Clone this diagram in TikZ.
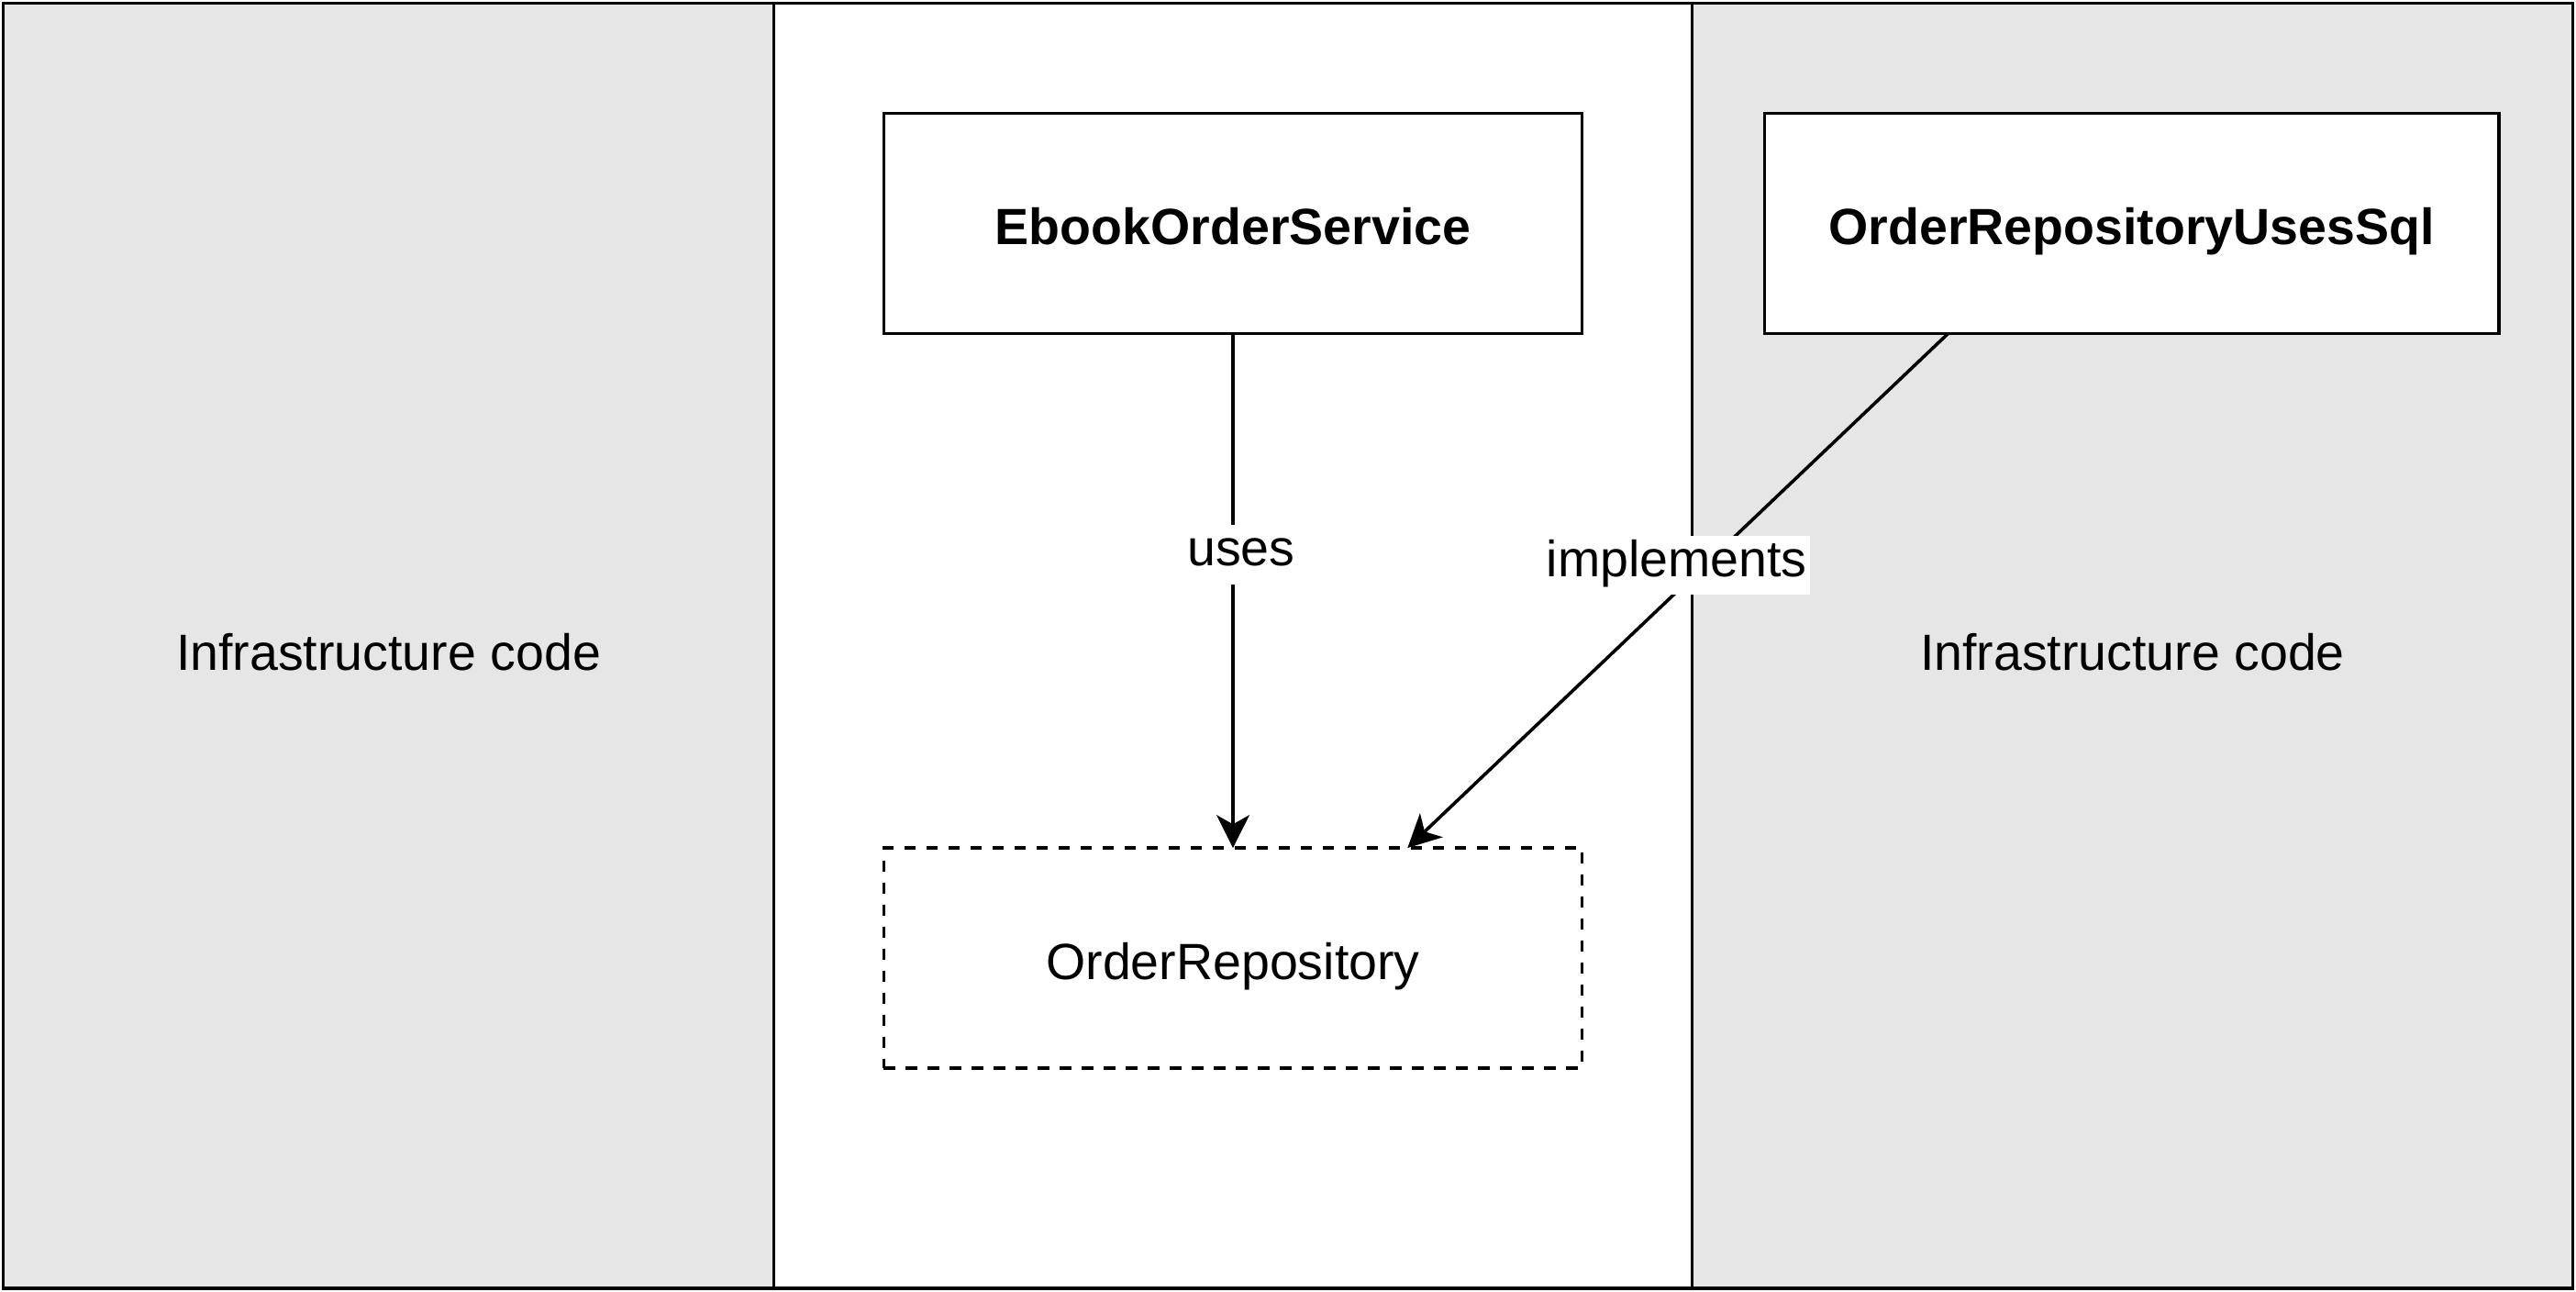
\documentclass[tikz,border=0pt]{standalone}
\usepackage{fontspec}
\setmainfont{Liberation Sans}
\usetikzlibrary{arrows.meta,calc}
\definecolor{panelgray}{HTML}{E6E6E6}
\begin{document}
\begin{tikzpicture}[x=0.5pt,y=-0.5pt,
  lw/.style={line width=1pt},
  txt/.style={font=\fontsize{15.5}{18}\selectfont, text height=13pt, text depth=0pt},
  panel/.style={draw=black, lw, rectangle, inner sep=0pt, outer sep=0pt, minimum height=391pt, txt, text height=15pt},
  cls/.style={draw=black, lw, fill=white, rectangle, minimum height=67pt, inner sep=0pt, outer sep=0pt, txt, font=\fontsize{15.5}{18}\selectfont\bfseries},
  iface/.style={draw=black, lw, dash pattern=on 3.4pt off 3.3pt, fill=white, rectangle, minimum width=212.5pt, minimum height=67pt, inner sep=0pt, outer sep=0pt, txt},
  arr/.style={lw, -{Stealth[length=10pt,width=10pt,inset=2.8pt]}},
  lbl/.style={fill=white, inner xsep=1pt, inner ysep=1.5pt, font=\fontsize{15.5}{18}\selectfont, text height=11pt, text depth=4pt}
]
\useasboundingbox (0,0) rectangle (1568,786);
\node[panel, fill=panelgray, minimum width=234.5pt] (left) at (236.5,393) {Infrastructure code};
\node[panel, fill=white, minimum width=279.5pt] (mid) at (750.5,393) {};
\node[panel, fill=panelgray, minimum width=268pt] (right) at (1298,393) {Infrastructure code};
\node[cls, minimum width=212.5pt] (eos) at (750.5,136) {EbookOrderService};
\node[cls, minimum width=223.5pt] (orus) at (1297.5,136) {OrderRepositoryUsesSql};
\node[iface] (or) at (750.5,583) {OrderRepository};
\draw[arr] (eos.south) -- (or.north) node[pos=0.42, xshift=2.5pt, yshift=-1.5pt, lbl] {uses};
\draw[arr] ($(orus.south west)!0.25!(orus.south east)$) -- ($(or.north west)!0.75!(or.north east)$)
  node[pos=0.438, xshift=-10.5pt, yshift=-2pt, lbl] {implements};
\end{tikzpicture}
\end{document}
